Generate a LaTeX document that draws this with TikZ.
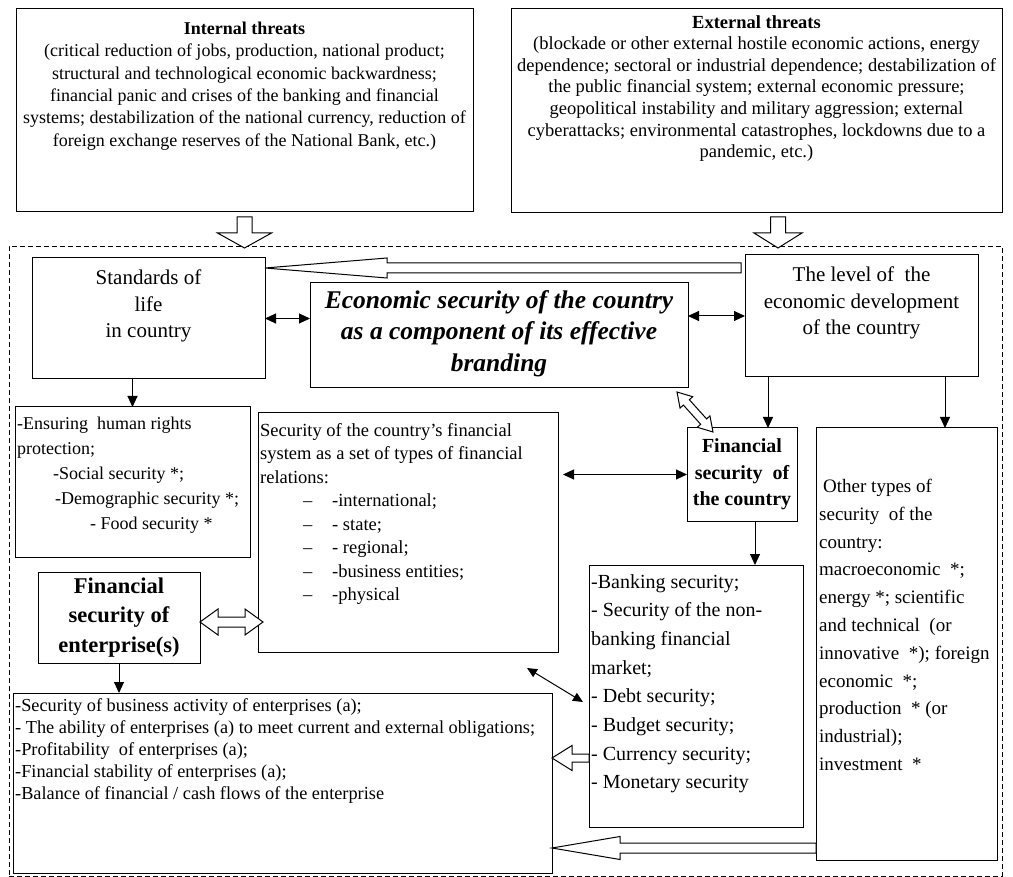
\documentclass[tikz,border=0pt]{standalone}
\usepackage{fontspec}
\setmainfont{Liberation Serif}
\usetikzlibrary{calc,arrows.meta,fit}

\tikzset{
  box/.style={draw=black, line width=1pt, inner sep=0pt, outer sep=0pt},
  outerbox/.style={draw=black, line width=0.8pt, dash pattern=on 5pt off 3pt, inner sep=0pt},
  txt/.style={inner sep=0pt, align=#1},
  txt/.default=center,
  arr/.style={line width=1pt, -{Triangle[length=11pt,width=10pt]}},
  darr/.style={line width=1pt, {Triangle[length=11pt,width=10pt]}-{Triangle[length=11pt,width=10pt]}},
  sdarr/.style={line width=1pt, {Triangle[length=10pt,width=9pt]}-{Triangle[length=10pt,width=9pt]}},
  harrow/.style={draw=black, line width=1pt, fill=white, line join=miter},
}

\newcommand{\mkbox}[4][box]{%
  \path (#3) coordinate (#2-a) (#4) coordinate (#2-b);
  \node[#1, fit=(#2-a)(#2-b)] (#2) {};}

% single hollow arrow: start, end, shaft half width, head half width, head length
\newcommand{\hollowarr}[5]{%
  \coordinate (hA) at (#1); \coordinate (hB) at (#2);
  \coordinate (hH) at ($(hB)!#5!(hA)$);
  \draw[harrow] ($(hA)!#3!90:(hB)$) -- ($(hH)!#3!90:(hB)$) -- ($(hH)!#4!90:(hB)$)
    -- (hB) -- ($(hH)!#4!-90:(hB)$) -- ($(hH)!#3!-90:(hB)$) -- ($(hA)!#3!-90:(hB)$) -- cycle;}

% double hollow arrow
\newcommand{\hollowdarr}[5]{%
  \coordinate (hA) at (#1); \coordinate (hB) at (#2);
  \coordinate (hH) at ($(hB)!#5!(hA)$); \coordinate (hG) at ($(hA)!#5!(hB)$);
  \draw[harrow] (hA) -- ($(hG)!#4!90:(hB)$) -- ($(hG)!#3!90:(hB)$) -- ($(hH)!#3!90:(hB)$)
    -- ($(hH)!#4!90:(hB)$) -- (hB) -- ($(hH)!#4!-90:(hB)$) -- ($(hH)!#3!-90:(hB)$)
    -- ($(hG)!#3!-90:(hB)$) -- ($(hG)!#4!-90:(hB)$) -- cycle;}

\begin{document}
\begin{tikzpicture}[x=1pt,y=-1pt]
\useasboundingbox (0,0) rectangle (1013,877);
\fill[white] (0,0) rectangle (1013,877);

% outer dashed frame
\mkbox[outerbox]{frame}{9,246}{1002,876}

% boxes
\mkbox{int}{16,9}{473,212}
\mkbox{ext}{511,9}{1002,213}
\mkbox{std}{32,258}{265,379}
\mkbox{eco}{310,283}{688,388}
\mkbox{lev}{745,255}{978,377}
\mkbox{hr}{15,407}{250,557}
\mkbox{fs}{258,413}{558,652}
\mkbox{fc}{687,428}{797,521}
\mkbox{oth}{816,428}{997,860}
\mkbox{bk}{589,565}{803,827}
\mkbox{fe}{38,572}{200,663}
\mkbox{el}{13,693}{552,873}

% texts
\node[txt, font=\fontsize{18}{22.3}\selectfont, anchor=north] (intT) at ($(int.north)+(0,13)$)
 {\textbf{Internal threats}\\
 (critical reduction of jobs, production, national product;\\
 structural and technological economic backwardness;\\
 financial panic and crises of the banking and financial\\
 systems; destabilization of the national currency, reduction of\\
 foreign exchange reserves of the National Bank, etc.)};

\node[txt, font=\fontsize{18.5}{21.6}\selectfont, anchor=north] (extT) at ($(ext.north)+(0,6)$)
 {\textbf{External threats}\\
 (blockade or other external hostile economic actions, energy\\
 dependence; sectoral or industrial dependence; destabilization of\\
 the public financial system; external economic pressure;\\
 geopolitical instability and military aggression; external\\
 cyberattacks; environmental catastrophes, lockdowns due to a\\
 pandemic, etc.)};

\node[txt, font=\fontsize{21}{26.5}\selectfont, anchor=north] (stdT) at ($(std.north)+(0,12)$)
 {Standards of\\ life\\ in country};

\node[txt, font=\fontsize{21}{26.5}\selectfont, anchor=north] (levT) at ($(lev.north)+(0,12)$)
 {The level of \ the\\ economic development\\ of the country};

\node[txt, font=\fontsize{25.5}{31.5}\selectfont\bfseries\itshape] (ecoT) at ($(eco.center)+(0,-2)$)
 {Economic security of the country\\ as a component of its effective\\ branding};

\node[txt=left, font=\fontsize{18}{25}\selectfont, anchor=north west] (hrT) at ($(hr.north west)+(2,10)$)
 {-Ensuring \ human rights\\
 protection;\\
 \hspace*{36pt}-Social security *;\\
 \hspace*{38pt}-Demographic security *;\\
 \hspace*{73pt}- Food security *};

\node[txt=left, font=\fontsize{18.5}{23.5}\selectfont, anchor=north west] (fsT) at ($(fs.north west)+(2,10)$)
 {Security of the country's financial\\
 system as a set of types of financial\\
 relations:\\
 \hspace*{43pt}\makebox[29pt][l]{\textendash}-international;\\
 \hspace*{43pt}\makebox[29pt][l]{\textendash}- state;\\
 \hspace*{43pt}\makebox[29pt][l]{\textendash}- regional;\\
 \hspace*{43pt}\makebox[29pt][l]{\textendash}-business entities;\\
 \hspace*{43pt}\makebox[29pt][l]{\textendash}-physical};

\node[txt, font=\fontsize{20}{26.5}\selectfont\bfseries] (fcT) at (fc.center)
 {Financial\\ security \ of\\ the country};

\node[txt=left, font=\fontsize{19}{27.8}\selectfont, anchor=north west] (othT) at ($(oth.north west)+(3,51)$)
 {\hspace*{4pt}Other types of\\
 security \ of the\\
 country:\\
 macroeconomic \ *;\\
 energy *; scientific\\
 and technical \ (or\\
 innovative \ *); foreign\\
 economic \ *;\\
 production \ * (or\\
 industrial);\\
 investment \ *};

\node[txt=left, font=\fontsize{20}{28.7}\selectfont, anchor=north west] (bkT) at ($(bk.north west)+(2,9)$)
 {-Banking security;\\
 - Security of the non-\\
 banking financial\\
 market;\\
 - Debt security;\\
 - Budget security;\\
 - Currency security;\\
 - Monetary security};

\node[txt, font=\fontsize{22.5}{29.5}\selectfont\bfseries] (feT) at (fe.center)
 {Financial\\ security of\\ enterprise(s)};

\node[txt=left, font=\fontsize{18.3}{22}\selectfont, anchor=north west] (elT) at ($(el.north west)+(2,5)$)
 {-Security of business activity of enterprises (a);\\
 - The ability of enterprises (a) to meet current and external obligations;\\
 -Profitability \ of enterprises (a);\\
 -Financial stability of enterprises (a);\\
 -Balance of financial / cash flows of the enterprise};

% plain arrows
\draw[darr] (std.east) -- (std.east -| eco.west);
\draw[darr] (lev.west -| eco.east) -- (lev.west);
\draw[arr] (hr.north |- std.south) -- (hr.north);
\coordinate (l1) at ($(lev.south west)+(23,0)$);
\draw[arr] (l1) -- (l1 |- fc.north);
\coordinate (l2) at ($(lev.south east)+(-33,0)$);
\draw[arr] (l2) -- (l2 |- oth.north);
\coordinate (f1) at ($(fc.west -| fs.east)+(5,0)$);
\draw[darr] (f1) -- (fc.west);
\coordinate (f2) at ($(fc.south)+(13,0)$);
\draw[arr] (f2) -- (f2 |- bk.north);
\draw[arr] (fe.south) -- (fe.south |- el.north);
\coordinate (d1) at ($(fs.south east)+(-31,16)$);
\coordinate (d2) at ($(bk.west)+(-6,6)$);
\draw[sdarr] (d1) -- (d2);

% hollow block arrows
\hollowarr{$(int.south)+(0,5)$}{$(int.south)+(0,36)$}{7.5pt}{27pt}{15pt}
\hollowarr{$(ext.south)+(21.5,4)$}{$(ext.south)+(21.5,35)$}{7.5pt}{24pt}{15pt}
\hollowarr{$(lev.north west)+(-4,13)$}{$(std.north east)+(0,10)$}{5pt}{10pt}{122pt}
\hollowdarr{$(eco.south east)+(-11,4)$}{$(fc.north west)+(26,4)$}{4pt}{8.5pt}{14pt}
\hollowdarr{$(fe.east)+(0,4.5)$}{$(fe.east -| fs.west)+(5,4.5)$}{5pt}{13pt}{18pt}
\hollowarr{$(bk.west)+(0,62)$}{$(bk.west -| el.east)+(0,62)$}{4pt}{12.5pt}{20pt}
\hollowarr{$(oth.west)+(0,204)$}{$(oth.west -| el.east)+(0,204)$}{5pt}{11.5pt}{68pt}
\end{tikzpicture}
\end{document}
